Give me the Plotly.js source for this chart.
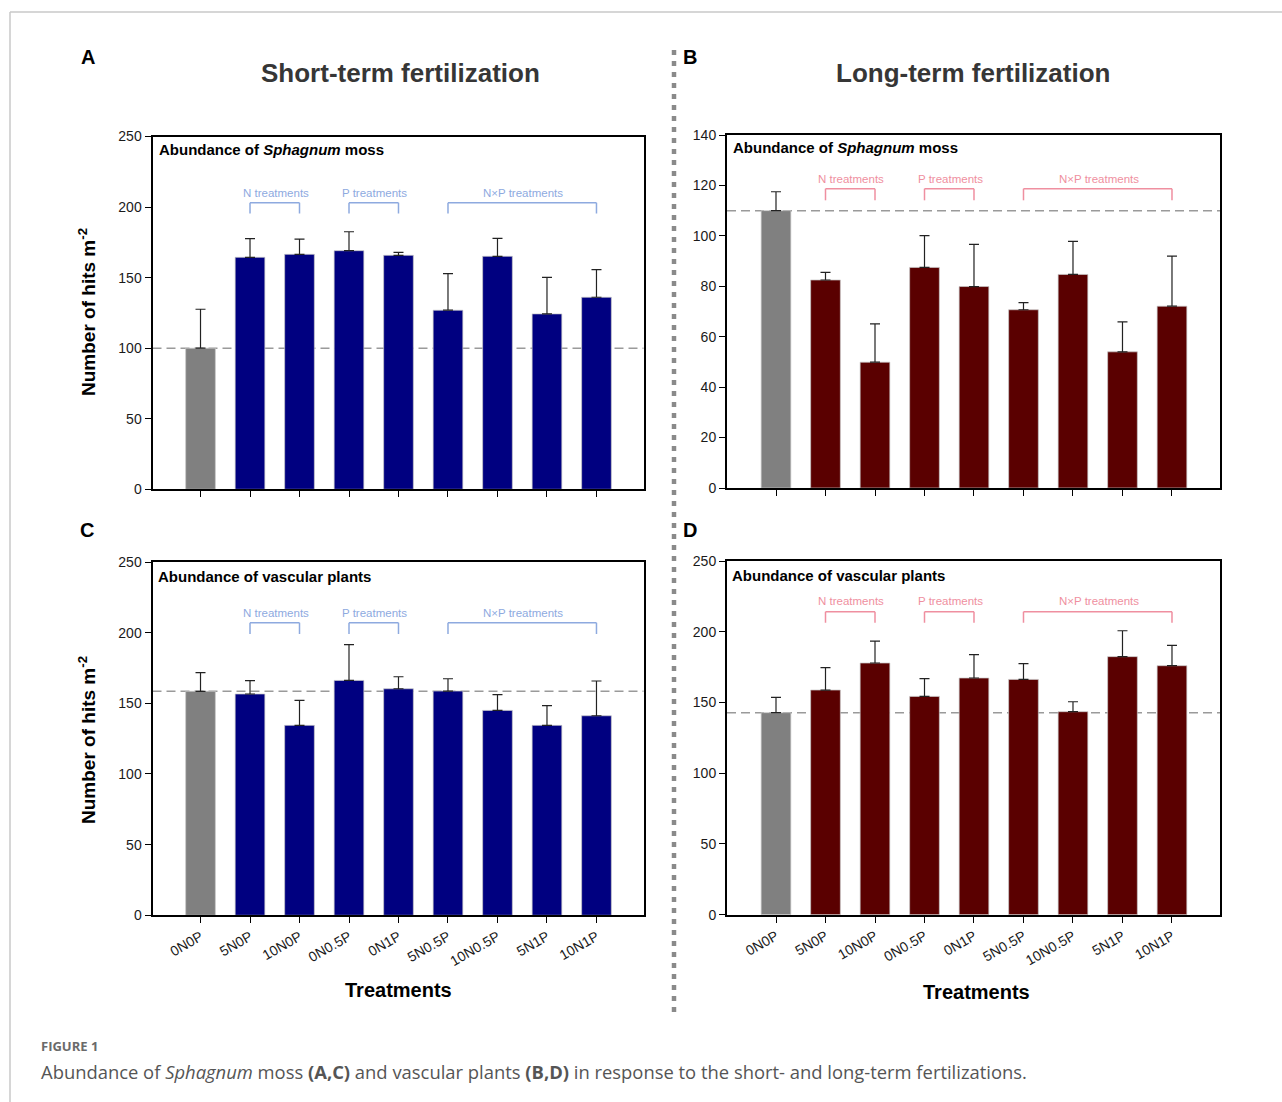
<!DOCTYPE html>
<html>
<head>
<meta charset="utf-8">
<script src="https://cdn.plot.ly/plotly-3.0.1.min.js"></script>
<style>
  html, body { margin: 0; padding: 0; background: #ffffff; }
  #chart { width: 1282px; height: 1102px; }
</style>
</head>
<body>
<div id="chart"></div>
<script>
// ---------------- data ----------------
const categories = ['0N0P', '5N0P', '10N0P', '0N0.5P', '0N1P', '5N0.5P', '10N0.5P', '5N1P', '10N1P'];

// Panel A: short-term, Sphagnum moss
const shortMoss    = [100.0, 164.4, 166.5, 169.1, 165.8, 126.9, 165.1, 124.3, 136.1];
const shortMossErr = [27.6, 13.2, 10.8, 13.4, 2.1, 25.9, 12.7, 25.9, 19.5];

// Panel B: long-term, Sphagnum moss
const longMoss    = [110.0, 82.5, 49.9, 87.5, 79.9, 70.7, 84.7, 54.0, 72.1];
const longMossErr = [7.5, 3.0, 15.2, 12.6, 16.7, 2.8, 13.1, 11.9, 19.9];

// Panel C: short-term, vascular plants
const shortVasc    = [158.5, 156.6, 134.4, 166.2, 160.3, 158.7, 145.0, 134.4, 141.2];
const shortVascErr = [13.2, 9.4, 17.7, 25.3, 8.5, 8.7, 11.1, 13.9, 24.6];

// Panel D: long-term, vascular plants
const longVasc    = [142.8, 158.8, 177.9, 154.3, 167.3, 166.3, 143.5, 182.4, 176.0];
const longVascErr = [10.8, 15.8, 15.5, 12.5, 16.5, 11.1, 7.0, 18.3, 14.4];

const noLowerErr = [0, 0, 0, 0, 0, 0, 0, 0, 0];

const yTickValsA = [0, 50, 100, 150, 200, 250];
const yTickValsB = [0, 20, 40, 60, 80, 100, 120, 140];

// treatment groups (category index ranges) shown with brackets
const groupNames = ['N treatments', 'P treatments', 'N\u00d7P treatments'];
const groupStart = [1, 3, 5];
const groupEnd   = [2, 4, 8];

// ---------------- styles ----------------
const FONT = 'Liberation Sans, Arial, Helvetica, sans-serif';
const CAPFONT = 'Open Sans, Noto Sans, sans-serif';
const GRAY = '#808080';
const NAVY = '#000080';
const DARKRED = '#5a0000';
const BLUE_BR = '#8eaadf';
const PINK_BR = '#ef8fa0';
const W = 1282, H = 1102;

function px(x) { return x / W; }
function py(y) { return 1 - y / H; }

function barTrace(vals, errs, mainColor, xa, ya) {
  return {
    type: 'bar',
    x: categories,
    y: vals,
    xaxis: xa, yaxis: ya,
    width: 0.6,
    marker: {
      color: categories.map((c, i) => i === 0 ? GRAY : mainColor),
      line: { color: 'rgba(200,200,200,0.9)', width: 0.8 }
    },
    error_y: {
      type: 'data', symmetric: false,
      array: errs, arrayminus: noLowerErr,
      color: '#222222', thickness: 1.2, width: 5
    },
    hoverinfo: 'x+y'
  };
}

const data = [
  barTrace(shortMoss, shortMossErr, NAVY, 'x', 'y'),
  barTrace(longMoss, longMossErr, DARKRED, 'x2', 'y2'),
  barTrace(shortVasc, shortVascErr, NAVY, 'x3', 'y3'),
  barTrace(longVasc, longVascErr, DARKRED, 'x4', 'y4')
];

function xAxis(domain, range, anchor, showLabels) {
  return {
    domain: domain, range: range, anchor: anchor,
    type: 'category',
    showline: true, linecolor: '#000', linewidth: 2, mirror: true,
    ticks: 'outside', ticklen: 6, tickwidth: 1, tickcolor: '#000',
    showticklabels: showLabels, tickangle: -30,
    tickfont: { family: FONT, size: 14, color: '#1a1a1a' },
    showgrid: false, zeroline: false, fixedrange: true
  };
}
function yAxis(domain, range, tickvals, anchor) {
  return {
    domain: domain, range: range, anchor: anchor,
    tickvals: tickvals,
    showline: true, linecolor: '#000', linewidth: 2, mirror: true,
    ticks: 'outside', ticklen: 6, tickwidth: 1, tickcolor: '#000',
    tickfont: { family: FONT, size: 14, color: '#1a1a1a' },
    showgrid: false, zeroline: false, fixedrange: true
  };
}

const xdA = [px(152.5), px(643.5)];
const xdB = [px(727), px(1220)];
const ydA = [py(489.3), py(136.5)];
const ydB = [py(488), py(135)];
const ydC = [py(915.3), py(562)];
const ydD = [py(914.7), py(561)];

const layout = {
  width: W, height: H,
  margin: { l: 0, r: 0, t: 0, b: 0 },
  paper_bgcolor: '#ffffff', plot_bgcolor: '#ffffff',
  showlegend: false,
  font: { family: FONT, color: '#000' },
  xaxis:  xAxis(xdA, [-0.97, 8.95], 'y', false),
  yaxis:  yAxis(ydA, [0, 250], yTickValsA, 'x'),
  xaxis2: xAxis(xdB, [-0.99, 8.97], 'y2', false),
  yaxis2: yAxis(ydB, [0, 140], yTickValsB, 'x2'),
  xaxis3: xAxis(xdA, [-0.97, 8.95], 'y3', true),
  yaxis3: yAxis(ydC, [0, 250], yTickValsA, 'x3'),
  xaxis4: xAxis(xdB, [-0.99, 8.97], 'y4', true),
  yaxis4: yAxis(ydD, [0, 250], yTickValsA, 'x4'),
  shapes: [],
  annotations: []
};

// outer figure frame (top + left)
layout.shapes.push({ type: 'line', xref: 'paper', yref: 'paper', x0: px(10), x1: 1, y0: py(12), y1: py(12),
  line: { color: '#c8c8c8', width: 1.5 } });
layout.shapes.push({ type: 'line', xref: 'paper', yref: 'paper', x0: px(10), x1: px(10), y0: py(12), y1: 0,
  line: { color: '#c8c8c8', width: 1.5 } });
// dotted separator
layout.shapes.push({ type: 'line', xref: 'paper', yref: 'paper', x0: px(674), x1: px(674), y0: py(50), y1: py(1013),
  line: { color: '#8a8a8a', width: 4.5, dash: '5px,6px' } });

// per-panel content
const panels = [
  { xa: 'x',  ya: 'y',  ctrl: shortMoss[0], color: BLUE_BR, title: '<b>Abundance of <i>Sphagnum</i> moss</b>',
    tx: 0.009, ty: 0.962, brTop: 203, brBot: 195.5, lab: 210 },
  { xa: 'x2', ya: 'y2', ctrl: longMoss[0],  color: PINK_BR, title: '<b>Abundance of <i>Sphagnum</i> moss</b>',
    tx: 0.008, ty: 0.966, brTop: 118.7, brBot: 114.1, lab: 122.7 },
  { xa: 'x3', ya: 'y3', ctrl: shortVasc[0], color: BLUE_BR, title: '<b>Abundance of vascular plants</b>',
    tx: 0.007, ty: 0.958, brTop: 207, brBot: 199, lab: 214 },
  { xa: 'x4', ya: 'y4', ctrl: longVasc[0],  color: PINK_BR, title: '<b>Abundance of vascular plants</b>',
    tx: 0.007, ty: 0.96, brTop: 214.2, brBot: 206.4, lab: 221.7 }
];

panels.forEach(p => {
  // control reference line (dashed)
  layout.shapes.push({ type: 'line', layer: 'below', xref: p.xa + ' domain', yref: p.ya,
    x0: 0, x1: 1, y0: p.ctrl, y1: p.ctrl,
    line: { color: '#9a9a9a', width: 1.5, dash: '9px,5px' } });
  // inner title
  layout.annotations.push({ xref: p.xa + ' domain', yref: p.ya + ' domain', x: p.tx, y: p.ty,
    xanchor: 'left', yanchor: 'middle', showarrow: false, text: p.title,
    font: { family: FONT, size: 15, color: '#000' } });
  // group brackets
  groupNames.forEach((g, k) => {
    const a = groupStart[k], b = groupEnd[k];
    const ln = { color: p.color, width: 1.5 };
    layout.shapes.push({ type: 'line', xref: p.xa, yref: p.ya, x0: a, x1: b, y0: p.brTop, y1: p.brTop, line: ln });
    layout.shapes.push({ type: 'line', xref: p.xa, yref: p.ya, x0: a, x1: a, y0: p.brTop, y1: p.brBot, line: ln });
    layout.shapes.push({ type: 'line', xref: p.xa, yref: p.ya, x0: b, x1: b, y0: p.brTop, y1: p.brBot, line: ln });
    layout.annotations.push({ xref: p.xa, yref: p.ya, x: (a + b) / 2 + 0.02, y: p.lab,
      xanchor: 'center', yanchor: 'middle', showarrow: false, text: g,
      font: { family: FONT, size: 11.5, color: p.color } });
  });
});

// figure-level texts
const ann = layout.annotations;
ann.push({ xref: 'paper', yref: 'paper', x: px(400), y: py(73), xanchor: 'center', yanchor: 'middle', showarrow: false,
  text: '<b>Short-term fertilization</b>', font: { family: FONT, size: 26, color: '#363636' } });
ann.push({ xref: 'paper', yref: 'paper', x: px(973), y: py(73), xanchor: 'center', yanchor: 'middle', showarrow: false,
  text: '<b>Long-term fertilization</b>', font: { family: FONT, size: 26, color: '#363636' } });

[['A', 88, 57], ['B', 690, 57], ['C', 87, 530], ['D', 690, 530]].forEach(l => {
  ann.push({ xref: 'paper', yref: 'paper', x: px(l[1]), y: py(l[2]), xanchor: 'center', yanchor: 'middle',
    showarrow: false, text: '<b>' + l[0] + '</b>', font: { family: FONT, size: 20, color: '#000' } });
});

[312, 740].forEach(yc => {
  ann.push({ xref: 'paper', yref: 'paper', x: px(87), y: py(yc), xanchor: 'center', yanchor: 'middle',
    showarrow: false, textangle: -90, text: '<b>Number of hits m<sup>-2</sup></b>',
    font: { family: FONT, size: 19, color: '#000' } });
});

[[399, 990], [977, 992]].forEach(t => {
  ann.push({ xref: 'paper', yref: 'paper', x: px(t[0]), y: py(t[1]), xanchor: 'center', yanchor: 'middle',
    showarrow: false, text: '<b>Treatments</b>', font: { family: FONT, size: 20, color: '#000' } });
});

// caption
ann.push({ xref: 'paper', yref: 'paper', x: px(39), y: py(1046), xanchor: 'left', yanchor: 'middle', showarrow: false,
  text: '<b>FIGURE 1</b>', font: { family: CAPFONT, size: 13, color: '#6a6a6a' } });
ann.push({ xref: 'paper', yref: 'paper', x: px(39), y: py(1071), xanchor: 'left', yanchor: 'middle', showarrow: false,
  text: 'Abundance of <i>Sphagnum</i> moss <b>(A,C)</b> and vascular plants <b>(B,D)</b> in response to the short- and long-term fertilizations.',
  font: { family: CAPFONT, size: 18.4, color: '#555555' } });

Plotly.newPlot('chart', data, layout, { displayModeBar: false, staticPlot: true });
</script>
</body>
</html>
